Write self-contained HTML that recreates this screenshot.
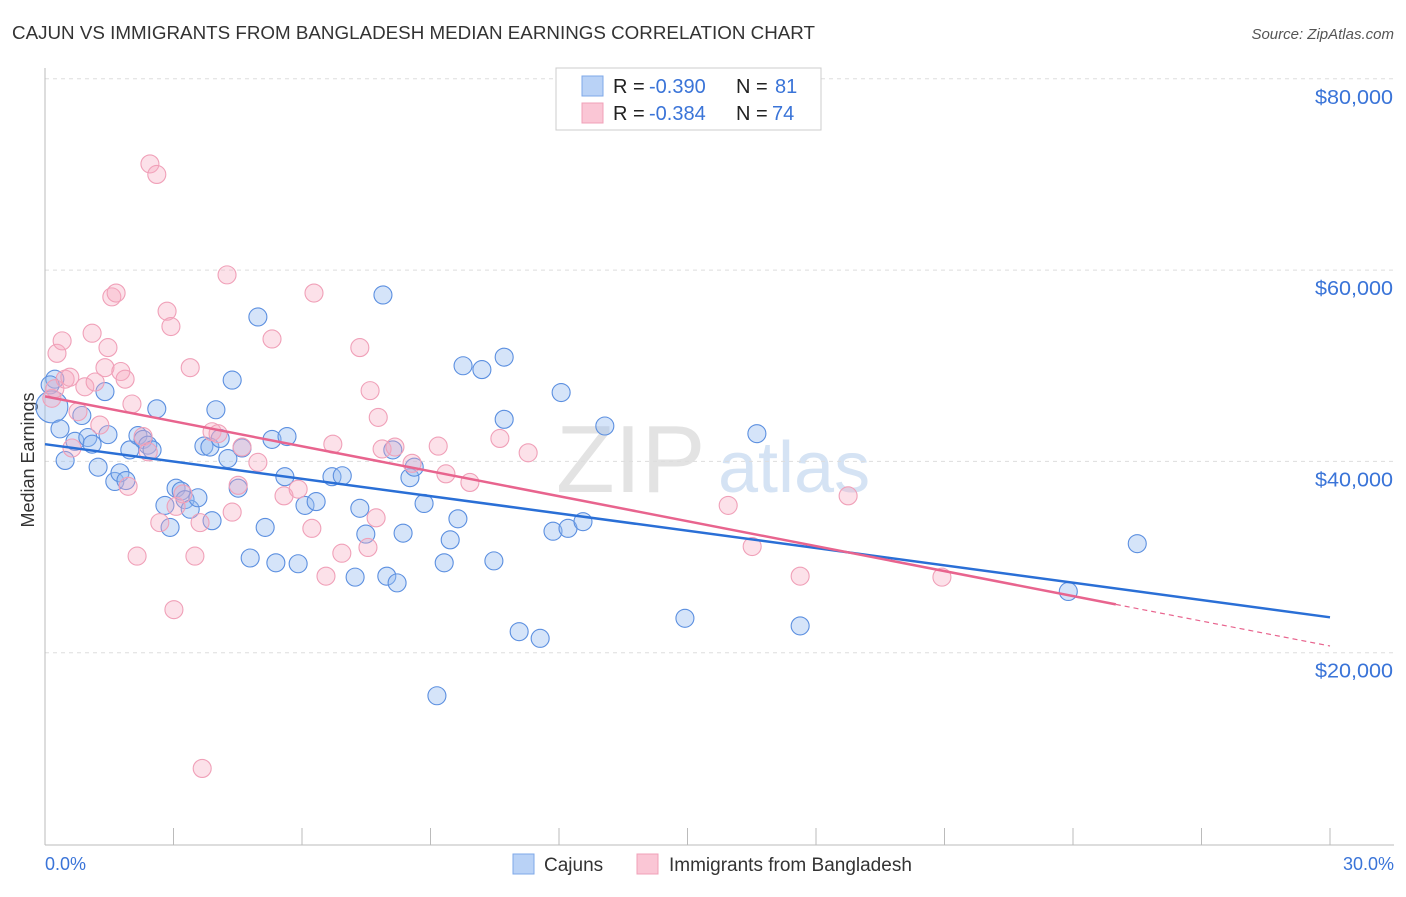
<!DOCTYPE html>
<html><head><meta charset="utf-8">
<style>
body{margin:0;background:#fff;font-family:"Liberation Sans",sans-serif;}
svg text{font-family:"Liberation Sans",sans-serif;}
</style></head>
<body>
<svg width="1406" height="892" xmlns="http://www.w3.org/2000/svg">
<text x="12" y="39" font-size="18" fill="#333" textLength="803" lengthAdjust="spacingAndGlyphs">CAJUN VS IMMIGRANTS FROM BANGLADESH MEDIAN EARNINGS CORRELATION CHART</text>
<text x="1394" y="39" font-size="15" fill="#555" font-style="italic" text-anchor="end">Source: ZipAtlas.com</text>
<text x="34" y="460" font-size="18" fill="#333" text-anchor="middle" transform="rotate(-90 34 460)">Median Earnings</text>
<text x="556" y="492" font-size="96" fill="#e3e3e3" font-family="Liberation Serif">ZIP</text>
<text x="718" y="492" font-size="72" fill="#d5e3f4">atlas</text>
<g id="grid"></g>
<line x1="45" y1="68" x2="45" y2="845" stroke="#bbb"/>
<line x1="45" y1="845" x2="1394" y2="845" stroke="#bbb"/>
<g id="ticks"></g>
<g id="pts"></g>
<g id="lines"></g>
<text x="45" y="870" font-size="18" fill="#3a74d8">0.0%</text>
<text x="1394" y="870" font-size="18" fill="#3a74d8" text-anchor="end">30.0%</text>
<g>
<rect x="556" y="68" width="265" height="62" fill="#fff" stroke="#ccc"/>
<rect x="582" y="76" width="21" height="20" fill="#b9d2f6" stroke="#7ea8e8"/>
<rect x="582" y="103" width="21" height="20" fill="#fac6d5" stroke="#f0a0b8"/>
<text x="613" y="93" font-size="20" fill="#222">R =</text>
<text x="649" y="93" font-size="20" fill="#3a74d8">-0.390</text>
<text x="736" y="93" font-size="20" fill="#222">N =</text>
<text x="775" y="93" font-size="20" fill="#3a74d8">81</text>
<text x="613" y="120" font-size="20" fill="#222">R =</text>
<text x="649" y="120" font-size="20" fill="#3a74d8">-0.384</text>
<text x="736" y="120" font-size="20" fill="#222">N =</text>
<text x="772" y="120" font-size="20" fill="#3a74d8">74</text>
</g>
<g>
<rect x="513" y="854" width="21" height="20" fill="#b9d2f6" stroke="#7ea8e8"/>
<text x="544" y="871" font-size="19" fill="#333">Cajuns</text>
<rect x="637" y="854" width="21" height="20" fill="#fac6d5" stroke="#f0a0b8"/>
<text x="669" y="871" font-size="19" fill="#333">Immigrants from Bangladesh</text>
</g>
</svg>
<script>
const yTicks=[20000,40000,60000,80000];
const yTickLabels=["$20,000","$40,000","$60,000","$80,000"];
const xTicks=[0,3,6,9,12,15,18,21,24,27,30];
const cajunX=[0.23,0.12,0.16,0.35,0.47,0.7,0.86,1,1.1,1.24,1.4,1.47,1.63,1.75,1.89,1.98,2.17,2.29,2.4,2.5,2.61,2.8,2.92,3.06,3.18,3.27,3.39,3.57,3.71,3.85,3.9,3.99,4.09,4.27,4.37,4.51,4.6,4.79,4.97,5.14,5.3,5.39,5.6,5.65,5.91,6.07,6.33,6.7,6.94,7.24,7.35,7.49,7.89,7.98,8.12,8.22,8.36,8.52,8.62,8.85,9.15,9.32,9.46,9.64,9.76,10.2,10.48,10.72,10.72,11.07,11.56,11.86,12.05,12.21,12.56,13.07,14.94,16.62,17.63,23.89,25.5];
const cajunY=[48.6,48,45.7,43.4,40.1,42.1,44.8,42.5,41.8,39.4,47.3,42.8,37.9,38.8,38,41.2,42.7,42.3,41.7,41.2,45.5,35.4,33.1,37.2,36.9,36,35,36.2,41.6,41.5,33.8,45.4,42.4,40.3,48.5,37.2,41.4,29.9,55.1,33.1,42.3,29.4,38.4,42.6,29.3,35.4,35.8,38.4,38.5,27.9,35.1,32.4,57.4,28,41.2,27.3,32.5,38.3,39.4,35.6,15.5,29.4,31.8,34,50,49.6,29.6,50.9,44.4,22.2,21.5,32.7,47.2,33,33.7,43.7,23.6,42.9,22.8,26.4,31.4];
const bangX=[0.16,0.23,0.28,0.4,0.47,0.58,0.63,0.77,0.93,1.1,1.17,1.28,1.4,1.47,1.56,1.66,1.77,1.87,1.94,2.03,2.15,2.29,2.41,2.45,2.61,2.68,2.85,2.94,3.01,3.06,3.22,3.39,3.5,3.62,3.67,3.9,4.04,4.25,4.37,4.51,4.6,4.97,5.3,5.58,5.91,6.23,6.28,6.56,6.72,6.93,7.35,7.54,7.59,7.73,7.78,7.87,8.17,8.57,9.18,9.36,9.92,10.62,11.28,15.95,16.51,17.63,18.75,20.94];
const bangY=[46.6,47.6,51.3,52.6,48.6,48.8,41.4,45.2,47.8,53.4,48.3,43.8,49.8,51.9,57.2,57.6,49.4,48.6,37.4,46,30.1,42.6,41,71.1,70,33.6,55.7,54.1,24.5,35.3,36.6,49.8,30.1,33.6,7.9,43.1,42.9,59.5,34.7,37.5,41.5,39.9,52.8,36.4,37.1,33,57.6,28,41.8,30.4,51.9,31,47.4,34.1,44.6,41.3,41.5,39.8,41.6,38.7,37.8,42.4,40.9,35.4,31.1,28,36.4,27.9];
const trendX=[0,30];
const cajunTrend=[41.8,23.7];
const bangTrend=[46.8,20.7];
const bangSolidEnd=25;
const NS='http://www.w3.org/2000/svg';
const xs=p=>45+p*(1285/30);
const ys=v=>844-v*(191.3/20000);
function mk(t,a,p){const e=document.createElementNS(NS,t);for(const k in a)e.setAttribute(k,a[k]);p.appendChild(e);return e;}
const grid=document.getElementById('grid');
yTicks.forEach((v,i)=>{
 const l=mk('line',{x1:45,x2:1394,y1:ys(v),y2:ys(v),stroke:'#ddd','stroke-dasharray':'4,4'},grid);
 
 
 const t=mk('text',{x:1393,y:ys(v)+25,'font-size':20,fill:'#3a74d8','text-anchor':'end',textLength:78,lengthAdjust:'spacingAndGlyphs'},grid);
 t.textContent=yTickLabels[i];
 
 
});
const tk=document.getElementById('ticks');
xTicks.forEach(p=>{
 const l=mk('line',{x1:xs(p),x2:xs(p),y1:828,y2:845,stroke:'#bbb'},tk);
 
 
});
const g=document.getElementById('pts');
cajunX.forEach((x,i)=>{
 const c=mk('circle',{cx:xs(x),cy:ys(cajunY[i]*1000),r:(i==2?16:9),fill:'rgba(150,188,240,0.4)',stroke:'#5b8fe0','stroke-width':1.1},g);
 
 
});
bangX.forEach((x,i)=>{
 const c=mk('circle',{cx:xs(x),cy:ys(bangY[i]*1000),r:9,fill:'rgba(246,170,192,0.35)',stroke:'#f0a0b8','stroke-width':1.1},g);
 
 
});
const L=document.getElementById('lines');
const bl=mk('line',{x1:xs(trendX[0]),y1:ys(cajunTrend[0]*1000),x2:xs(trendX[1]),y2:ys(cajunTrend[1]*1000),stroke:'#2a6fd6','stroke-width':2.5},L);


const slope=(bangTrend[1]-bangTrend[0])/(trendX[1]-trendX[0]);
const midY=bangTrend[0]+slope*bangSolidEnd;
const pl=mk('line',{x1:xs(trendX[0]),y1:ys(bangTrend[0]*1000),x2:xs(bangSolidEnd),y2:ys(midY*1000),stroke:'#e8648e','stroke-width':2.5},L);


const pd=mk('line',{x1:xs(bangSolidEnd),y1:ys(midY*1000),x2:xs(trendX[1]),y2:ys(bangTrend[1]*1000),stroke:'#e8648e','stroke-width':1.2,'stroke-dasharray':'5,4'},L);


</script>
</body></html>
